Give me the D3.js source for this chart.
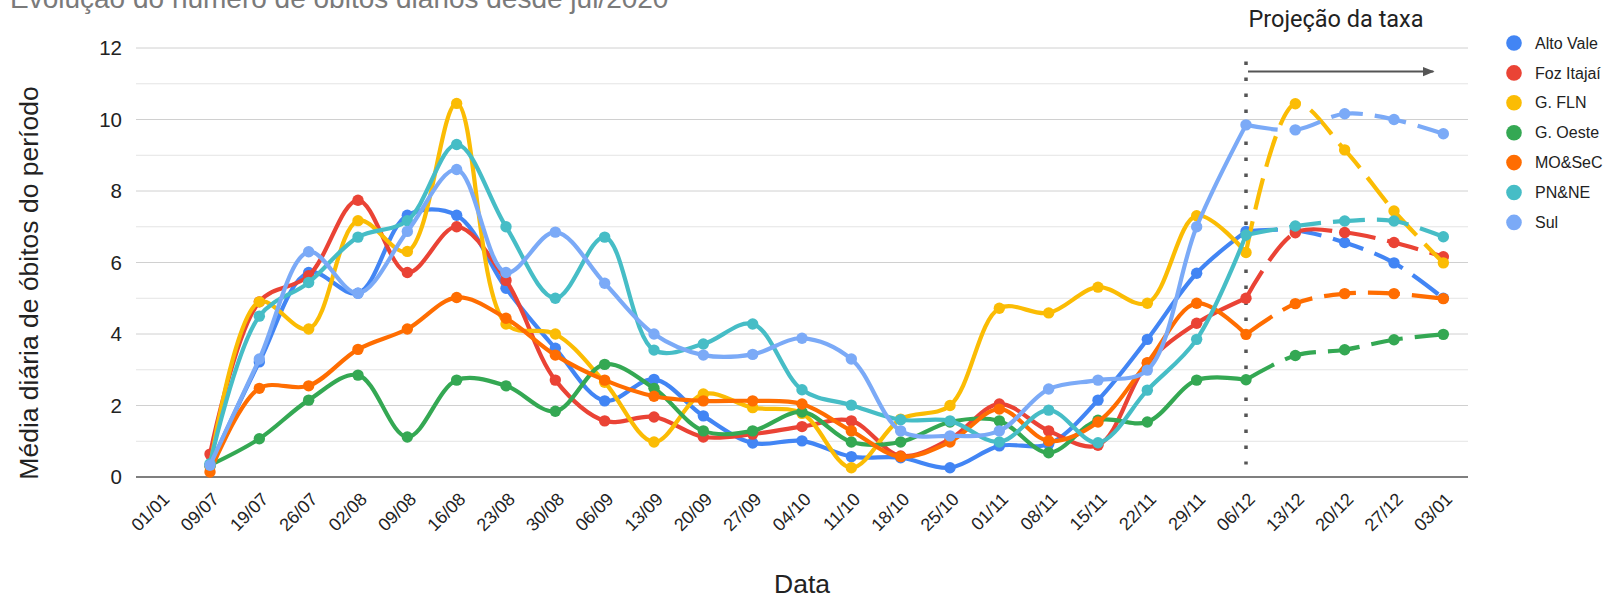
<!DOCTYPE html>
<html>
<head>
<meta charset="utf-8">
<script src="https://cdn.jsdelivr.net/npm/d3@7"></script>
<style>
  body { margin: 0; background: #fff; }
  svg { display: block; font-family: "Liberation Sans", Arial, sans-serif; }
</style>
</head>
<body>
<div id="chart"></div>
<script>
/*
** Data
*/
var dates = ["01/01", "09/07", "19/07", "26/07", "02/08", "09/08", "16/08", "23/08", "30/08",
    "06/09", "13/09", "20/09", "27/09", "04/10", "11/10", "18/10", "25/10", "01/11", "08/11",
    "15/11", "22/11", "29/11", "06/12", "13/12", "20/12", "27/12", "03/01"];
var projectionStart = "06/12"; // from here on the values are a projection

var altoVale  = [null, 0.30, 3.22, 5.72, 5.14, 7.32, 7.32, 5.28, 3.60, 2.13, 2.73, 1.71, 0.95, 1.01, 0.57, 0.54, 0.26, 0.87, 0.92, 2.15, 3.85, 5.70, 6.87, 6.90, 6.56, 5.99, 5.00];
var fozItajai = [null, 0.64, 4.90, 5.63, 7.74, 5.72, 7.00, 5.50, 2.71, 1.57, 1.68, 1.12, 1.20, 1.41, 1.57, 0.59, 1.06, 2.04, 1.29, 0.89, 3.18, 4.30, 5.00, 6.83, 6.84, 6.56, 6.16];
var gFln      = [null, 0.30, 4.90, 4.14, 7.17, 6.31, 10.45, 4.28, 4.00, 2.65, 0.98, 2.32, 1.94, 1.78, 0.26, 1.62, 2.00, 4.72, 4.59, 5.31, 4.86, 7.31, 6.28, 10.44, 9.15, 7.44, 5.99];
var gOeste    = [null, 0.33, 1.07, 2.15, 2.85, 1.12, 2.71, 2.55, 1.84, 3.15, 2.48, 1.29, 1.29, 1.82, 0.98, 0.98, 1.54, 1.57, 0.68, 1.59, 1.54, 2.71, 2.72, 3.40, 3.56, 3.84, 3.99];
var moSec     = [null, 0.14, 2.48, 2.55, 3.57, 4.14, 5.02, 4.44, 3.41, 2.71, 2.26, 2.13, 2.13, 2.04, 1.29, 0.57, 0.98, 1.90, 1.01, 1.54, 3.20, 4.86, 3.99, 4.85, 5.13, 5.13, 4.99];
var pnNe      = [null, 0.37, 4.50, 5.44, 6.71, 7.17, 9.30, 7.00, 5.00, 6.71, 3.55, 3.72, 4.28, 2.44, 2.01, 1.60, 1.57, 0.98, 1.87, 0.96, 2.43, 3.85, 6.77, 7.02, 7.16, 7.16, 6.72];
var sul       = [null, 0.33, 3.30, 6.30, 5.14, 6.87, 8.60, 5.72, 6.85, 5.42, 4.00, 3.41, 3.43, 3.88, 3.30, 1.29, 1.15, 1.29, 2.46, 2.71, 2.99, 7.00, 9.85, 9.71, 10.16, 10.00, 9.60];

var seriesNames  = ["Alto Vale", "Foz Itajaí", "G. FLN", "G. Oeste", "MO&SeC", "PN&NE", "Sul"];
var seriesValues = [altoVale, fozItajai, gFln, gOeste, moSec, pnNe, sul];
var colors       = ["#4285f4", "#ea4335", "#fbbc04", "#34a853", "#ff6d01", "#46bdc6", "#7baaf7"];
var yTicks       = [0, 2, 4, 6, 8, 10, 12];

/*
** Layout
*/
var width = 1604, height = 599
  , plot = { left: 136, right: 1468, top: 48, bottom: 477 }
  , x = d3.scalePoint().domain(dates).range([plot.left, plot.right]).padding(0.5)
  , y = d3.scaleLinear().domain([0, 12]).range([plot.bottom, plot.top])
  , color = d3.scaleOrdinal().domain(seriesNames).range(colors)
  , cut = dates.indexOf(projectionStart)
  , lastDate = dates[dates.length - 1]
;

var svg = d3.select("#chart").append("svg")
    .attr("width", width)
    .attr("height", height)
;

// title, mostly pushed out of the frame like in the original
svg.append("text")
    .attr("x", 10)
    .attr("y", 8)
    .attr("font-size", 28)
    .attr("fill", "#7a7a7a")
    .text("Evolução do número de óbitos diários desde jul/2020")
;

// gridlines (every unit, the labelled ones darker)
svg.append("g")
    .attr("class", "grid")
  .selectAll("line")
    .data(d3.range(1, 13))
  .enter().append("line")
    .attr("x1", plot.left)
    .attr("x2", plot.right)
    .attr("y1", function(d) { return y(d); })
    .attr("y2", function(d) { return y(d); })
    .attr("stroke", function(d) { return d % 2 ? "#e4e4e4" : "#d0d0d0"; })
    .attr("stroke-width", 1)
;

// y axis labels
var yAxis = svg.append("g")
    .attr("transform", "translate(" + plot.left + ",0)")
    .call(d3.axisLeft(y).tickValues(yTicks).tickSize(0).tickPadding(14))
;
yAxis.select(".domain").remove();
yAxis.selectAll("text")
    .attr("font-size", 20.5)
    .attr("font-family", "Liberation Sans, Arial, sans-serif")
    .attr("fill", "#222")
;

// x axis labels, rotated
var xAxis = svg.append("g")
    .attr("transform", "translate(0," + plot.bottom + ")")
    .call(d3.axisBottom(x).tickSize(0))
;
xAxis.select(".domain").remove();
xAxis.selectAll("text")
    .attr("y", 0)
    .attr("dy", "0.35em")
    .attr("text-anchor", "end")
    .attr("transform", "translate(5,19) rotate(-45)")
    .attr("font-size", 18)
    .attr("font-family", "Liberation Sans, Arial, sans-serif")
    .attr("fill", "#222")
;

// baseline
svg.append("line")
    .attr("x1", plot.left)
    .attr("x2", plot.right)
    .attr("y1", y(0))
    .attr("y2", y(0))
    .attr("stroke", "#555")
    .attr("stroke-width", 1.6)
;

// axis titles
svg.append("text")
    .attr("transform", "translate(38,283) rotate(-90)")
    .attr("text-anchor", "middle")
    .attr("font-size", 26.5)
    .attr("fill", "#222")
    .text("Média diária de óbitos do período")
;
svg.append("text")
    .attr("x", (plot.left + plot.right) / 2)
    .attr("y", 593)
    .attr("text-anchor", "middle")
    .attr("font-size", 26.5)
    .attr("fill", "#222")
    .text("Data")
;

// projection marker: dotted vertical line, arrow and caption
svg.append("defs").append("marker")
    .attr("id", "arrowhead")
    .attr("viewBox", "0 0 10 10")
    .attr("refX", 9)
    .attr("refY", 5)
    .attr("markerWidth", 6)
    .attr("markerHeight", 6)
    .attr("orient", "auto")
  .append("path")
    .attr("d", "M0,1L10,5L0,9Z")
    .attr("fill", "#555")
;
svg.append("line")
    .attr("x1", x(projectionStart))
    .attr("x2", x(projectionStart))
    .attr("y1", y(11.62))
    .attr("y2", y(0.35))
    .attr("stroke", "#555")
    .attr("stroke-width", 3.5)
    .attr("stroke-dasharray", "3.5,12.5")
;
svg.append("line")
    .attr("x1", x(projectionStart) + 2)
    .attr("x2", x(lastDate) - 10)
    .attr("y1", y(11.34))
    .attr("y2", y(11.34))
    .attr("stroke", "#555")
    .attr("stroke-width", 2)
    .attr("marker-end", "url(#arrowhead)")
;
svg.append("text")
    .attr("x", x(projectionStart) + 90)
    .attr("y", 26.5)
    .attr("text-anchor", "middle")
    .attr("font-family", "Roboto, sans-serif")
    .attr("font-size", 23.5)
    .attr("fill", "#222")
    .text("Projeção da taxa")
;

/*
** Series
*/
var line = d3.line()
    .defined(function(d) { return d.v != null; })
    .x(function(d) { return x(d.date); })
    .y(function(d) { return y(d.v); })
    .curve(d3.curveCatmullRom)
;

var series = seriesNames.map(function(name, i) {
    var pts = dates.map(function(dt, j) { return { date: dt, v: seriesValues[i][j] }; });
    return {
        name: name
      , observed: pts.slice(0, cut + 1)
      , projected: pts.slice(cut)
      , points: pts.filter(function(p) { return p.v != null; })
    };
});

svg.append("g").attr("class", "series")
  .selectAll("g")
    .data(series)
  .enter().append("g")
    .each(function(s) {
        var self = d3.select(this)
          , c = color(s.name)
        ;
        self.append("path")
            .attr("d", line(s.observed))
            .attr("fill", "none")
            .attr("stroke", c)
            .attr("stroke-width", 4.2)
            .attr("stroke-linecap", "round")
        ;
        self.append("path")
            .attr("d", line(s.projected))
            .attr("fill", "none")
            .attr("stroke", c)
            .attr("stroke-width", 4.2)
            .attr("stroke-dasharray", "32,12")
        ;
        self.selectAll("circle")
            .data(s.points)
          .enter().append("circle")
            .attr("cx", function(d) { return x(d.date); })
            .attr("cy", function(d) { return y(d.v); })
            .attr("r", 5.7)
            .attr("fill", c)
        ;
      })
;

/*
** Legend
*/
var legend = svg.append("g")
    .attr("transform", "translate(1514,43)")
  .selectAll("g")
    .data(seriesNames)
  .enter().append("g")
    .attr("transform", function(d, i) { return "translate(0," + (i * 29.9) + ")"; })
;
legend.append("circle")
    .attr("r", 7.8)
    .attr("fill", function(d) { return color(d); })
;
legend.append("text")
    .attr("x", 21)
    .attr("dy", "0.35em")
    .attr("font-size", 16)
    .attr("fill", "#222")
    .text(function(d) { return d; })
;
</script>
</body>
</html>
